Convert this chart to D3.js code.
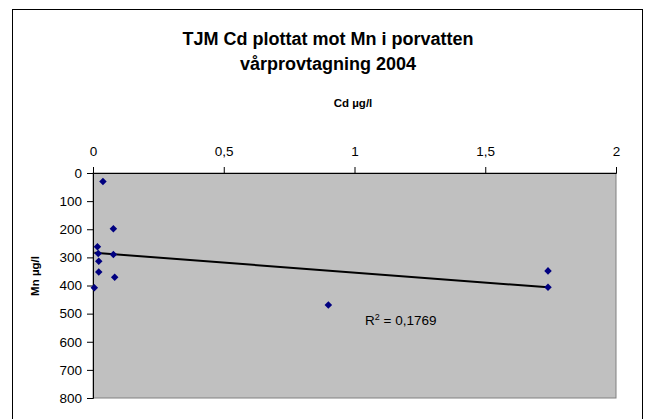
<!DOCTYPE html>
<html>
<head>
<meta charset="utf-8">
<script src="https://cdn.jsdelivr.net/npm/d3@7"></script>
<style>
  html, body { margin: 0; padding: 0; background: #fff; }
  svg { display: block; font-family: "Liberation Sans", Arial, sans-serif; }
</style>
</head>
<body>
<svg id="chart" width="646" height="419"></svg>
<script>
// Cd (µg/l) and Mn (µg/l) in pore water, spring sampling 2004
const cdValues = [0.038, 0.078, 0.017, 0.020, 0.022, 0.022, 0.005, 0.078, 0.083, 0.90, 1.74, 1.74];
const mnValues = [30, 198, 262, 286, 314, 352, 408, 290, 371, 469, 348, 406];
const xTicks = [0, 0.5, 1, 1.5, 2];
const yTicks = [0, 100, 200, 300, 400, 500, 600, 700, 800];
const titleLines = ["TJM Cd plottat mot Mn i porvatten", "vårprovtagning 2004"];
const rSquaredText = "0,1769";

const svg = d3.select("#chart");

// chart frame
svg.append("rect")
  .attr("x", 12.5).attr("y", 9.5)
  .attr("width", 630).attr("height", 420)
  .attr("fill", "#fff").attr("stroke", "#000").attr("stroke-width", 1);

const x = d3.scaleLinear().domain([0, 2]).range([93, 616]);
const y = d3.scaleLinear().domain([0, 800]).range([173, 398]);

// plot area
svg.append("rect")
  .attr("x", x(0)).attr("y", y(0))
  .attr("width", x(2) - x(0)).attr("height", y(800) - y(0))
  .attr("fill", "#c0c0c0").attr("stroke", "#808080").attr("stroke-width", 1);

// title
svg.append("g").selectAll("text").data(titleLines).join("text")
  .attr("x", 328).attr("y", (d, i) => 45 + i * 25)
  .attr("text-anchor", "middle")
  .attr("font-size", 18).attr("font-weight", "bold")
  .text(d => d);

const fmt = d => String(d).replace(".", ",");

// x axis along the top
const xAxis = svg.append("g")
  .attr("transform", `translate(0,${y(0)})`)
  .call(d3.axisTop(x).tickValues(xTicks).tickFormat(fmt).tickSize(6).tickPadding(11));
xAxis.select(".domain").attr("stroke", "#000");
xAxis.selectAll(".tick line").attr("stroke", "#000");
xAxis.selectAll("text").attr("font-size", 13.5).attr("font-family", "Liberation Sans, Arial, sans-serif").attr("fill", "#000");

// y axis, values increasing downward
const yAxis = svg.append("g")
  .attr("transform", `translate(${x(0)},0)`)
  .call(d3.axisLeft(y).tickValues(yTicks).tickSize(6).tickPadding(5));
yAxis.select(".domain").attr("stroke", "#000");
yAxis.selectAll(".tick line").attr("stroke", "#000");
yAxis.selectAll("text").attr("font-size", 13.5).attr("font-family", "Liberation Sans, Arial, sans-serif").attr("fill", "#000");

// axis titles
svg.append("text")
  .attr("x", 353).attr("y", 107)
  .attr("text-anchor", "middle")
  .attr("font-size", 11.5).attr("font-weight", "bold")
  .text("Cd µg/l");

svg.append("text")
  .attr("transform", `translate(39,276) rotate(-90)`)
  .attr("text-anchor", "middle")
  .attr("font-size", 11.5).attr("font-weight", "bold")
  .text("Mn µg/l");

// linear trend line (least squares) over the data range
const pts = cdValues.map((c, i) => [c, mnValues[i]]);
const mx = d3.mean(cdValues), my = d3.mean(mnValues);
const sxy = d3.sum(pts, p => (p[0] - mx) * (p[1] - my));
const sxx = d3.sum(pts, p => (p[0] - mx) ** 2);
const slope = sxy / sxx, intercept = my - slope * mx;
const [x0, x1] = d3.extent(cdValues);
svg.append("line")
  .attr("x1", x(x0)).attr("y1", y(intercept + slope * x0))
  .attr("x2", x(x1)).attr("y2", y(intercept + slope * x1))
  .attr("stroke", "#000").attr("stroke-width", 2);

// data markers
const diamond = d3.symbol().type(d3.symbolDiamond2).size(36);
svg.append("g").selectAll("path").data(pts).join("path")
  .attr("transform", p => `translate(${x(p[0])},${y(p[1])})`)
  .attr("d", diamond)
  .attr("fill", "#000080");

// R² label
const r2 = svg.append("text")
  .attr("x", 365).attr("y", 325)
  .attr("font-size", 13.5);
r2.append("tspan").text("R");
r2.append("tspan").attr("font-size", 9).attr("dy", -5).text("2");
r2.append("tspan").attr("dy", 5).text(" = " + rSquaredText);
</script>
</body>
</html>
